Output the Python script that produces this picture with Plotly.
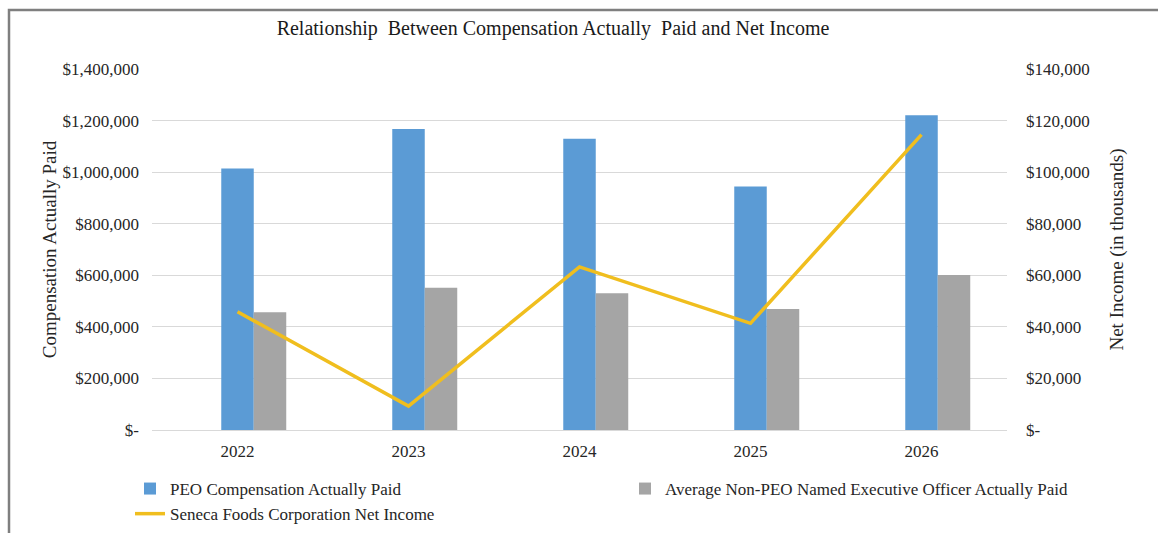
import plotly.graph_objects as go

years = ["2022", "2023", "2024", "2025", "2026"]
peo_cap = [1015000, 1168000, 1130000, 945000, 1221000]
neo_cap = [457000, 552000, 531000, 470000, 601000]
net_income = [45900, 9300, 63300, 41400, 114600]

left_tickvals = [0, 200000, 400000, 600000, 800000, 1000000, 1200000, 1400000]
left_ticktext = ["$-", "$200,000", "$400,000", "$600,000", "$800,000",
                 "$1,000,000", "$1,200,000", "$1,400,000"]
right_tickvals = [0, 20000, 40000, 60000, 80000, 100000, 120000, 140000]
right_ticktext = ["$-", "$20,000", "$40,000", "$60,000", "$80,000",
                  "$100,000", "$120,000", "$140,000"]

FONT = "Liberation Serif"
BLUE = "#5B9BD5"
GRAY = "#A5A5A5"
GOLD = "#F0BE1E"
TXT = "#262626"

bw = 0.19

fig = go.Figure()
fig.add_trace(go.Bar(
    x=years, y=peo_cap, name="PEO Compensation Actually Paid",
    marker=dict(color=BLUE, line=dict(width=0)),
    width=bw, offset=-bw / 2, yaxis="y",
))
fig.add_trace(go.Bar(
    x=years, y=neo_cap, name="Average Non-PEO Named Executive Officer Actually Paid",
    marker=dict(color=GRAY, line=dict(width=0)),
    width=bw, offset=bw / 2, yaxis="y",
))
fig.add_trace(go.Scatter(
    x=years, y=net_income, name="Seneca Foods Corporation Net Income",
    mode="lines", line=dict(color=GOLD, width=3.5), yaxis="y2",
))

fig.update_layout(
    width=1158, height=533,
    margin=dict(l=152, r=151, t=69, b=103, autoexpand=False),
    paper_bgcolor="white", plot_bgcolor="white",
    font=dict(family=FONT, size=17, color=TXT),
    barmode="overlay",
    title=dict(
        text="Relationship  Between Compensation Actually  Paid and Net Income",
        x=0.469, xref="paper", xanchor="center",
        y=1 - 28 / 533, yref="container", yanchor="middle",
        font=dict(family=FONT, size=20, color="#1a1a1a"),
    ),
    xaxis=dict(
        type="category", range=[-0.5, 4.5],
        showgrid=False, showline=False, zeroline=False,
        ticks="", tickfont=dict(size=17, color=TXT),
        ticklabelstandoff=9,
    ),
    yaxis=dict(
        range=[0, 1400800], tickvals=left_tickvals, ticktext=left_ticktext,
        showgrid=True, gridcolor="#D9D9D9", gridwidth=1,
        zeroline=True, zerolinecolor="#D9D9D9", zerolinewidth=1,
        showline=False, ticks="", ticklabelstandoff=12,
        tickfont=dict(size=17, color=TXT),
        title=dict(text="Compensation Actually Paid", standoff=0,
                   font=dict(size=19, color=TXT)),
    ),
    yaxis2=dict(
        range=[0, 140080], tickvals=right_tickvals, ticktext=right_ticktext,
        overlaying="y", side="right", showgrid=False, zeroline=False,
        showline=False, ticks="", ticklabelstandoff=18,
        tickfont=dict(size=17, color=TXT),
        title=dict(text="Net Income (in thousands)", standoff=20,
                   font=dict(size=19, color=TXT)),
    ),
    legend=dict(
        orientation="h", x=-0.0257, xanchor="left",
        y=(430 - 471) / 361, yref="paper", yanchor="top",
        entrywidth=450, entrywidthmode="pixels",
        font=dict(size=17, color=TXT), traceorder="normal",
        itemwidth=30,
    ),
    shapes=[dict(
        type="rect", xref="paper", yref="paper",
        x0=(9 - 152) / 855, x1=(1175 - 152) / 855,
        y0=(430 - 560) / 361, y1=(430 - 10) / 361,
        line=dict(color="#7F7F7F", width=2.5), fillcolor="rgba(0,0,0,0)",
        layer="above",
    )],
)

fig.write_html("out.html")
